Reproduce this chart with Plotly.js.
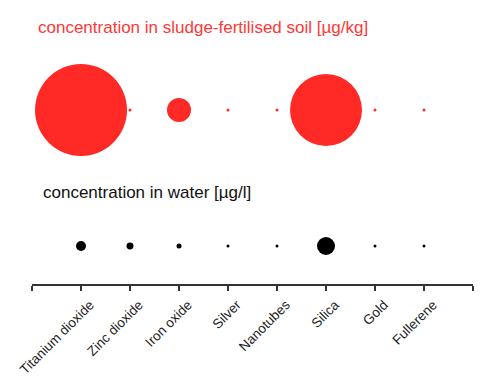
<!DOCTYPE html>
<html>
<head>
<meta charset="utf-8">
<script src="https://cdn.plot.ly/plotly-3.0.1.min.js"></script>
<style>html,body{margin:0;padding:0;background:#fff;}#chart{width:500px;height:376px;}</style>
</head>
<body>
<div id="chart"></div>
<script>
// Nanomaterials (categories)
const categories = ["Titanium dioxide", "Zinc dioxide", "Iron oxide", "Silver", "Nanotubes", "Silica", "Gold", "Fullerene"];
// Estimated concentration in sludge-fertilised soil [µg/kg]
const soilValues = [1000, 0.5, 68, 0.5, 0.5, 612, 0.5, 0.5];
// Estimated concentration in water [µg/l]
const waterValues = [3.1, 1.5, 0.77, 0.28, 0.28, 10, 0.28, 0.28];
const soilTitle = "concentration in sludge-fertilised soil [µg/kg]";
const waterTitle = "concentration in water [µg/l]";

const xpos = categories.map((c, i) => i + 1);
const maxSoilDiam = 92, maxWaterDiam = 18;
const soilRef = 2 * Math.max(...soilValues) / (maxSoilDiam * maxSoilDiam);
const waterRef = 2 * Math.max(...waterValues) / (maxWaterDiam * maxWaterDiam);

const traces = [
  {
    x: xpos, y: categories.map(() => 2), type: 'scatter', mode: 'markers',
    text: categories, cliponaxis: false, hoverinfo: 'text',
    marker: { size: soilValues, sizemode: 'area', sizeref: soilRef, sizemin: 1.5, opacity: 1,
              color: 'rgb(255,42,38)', line: { width: 0 } }
  },
  {
    x: xpos, y: categories.map(() => 1), type: 'scatter', mode: 'markers',
    text: categories, cliponaxis: false, hoverinfo: 'text',
    marker: { size: waterValues, sizemode: 'area', sizeref: waterRef, sizemin: 1.5, opacity: 1,
              color: '#000', line: { width: 0 } }
  }
];

const layout = {
  width: 500, height: 376,
  margin: { l: 32, r: 27, t: 0, b: 92 },
  paper_bgcolor: '#fff', plot_bgcolor: '#fff',
  showlegend: false,
  font: { family: 'Liberation Sans, Arial, sans-serif', color: '#222' },
  xaxis: {
    range: [0, categories.length + 1],
    tickvals: [0, ...xpos, categories.length + 1],
    ticktext: ['', ...categories, ''],
    tickangle: -45,
    ticks: 'outside', ticklen: 5, tickwidth: 1.4, tickcolor: '#333',
    ticklabelshift: 9, ticklabelstandoff: 1,
    showline: true, linecolor: '#333', linewidth: 1.6,
    showgrid: false, zeroline: false,
    tickfont: { size: 13.5, color: '#222' },
    fixedrange: true
  },
  yaxis: {
    range: [0.7206, 2.8088], visible: false, showgrid: false, zeroline: false, fixedrange: true
  },
  annotations: [
    { text: soilTitle, xref: 'x', yref: 'y', x: 0.08, y: 2.61, xanchor: 'left', yanchor: 'middle',
      showarrow: false, font: { size: 17, color: 'rgb(255,55,55)' } },
    { text: waterTitle, xref: 'x', yref: 'y', x: 0.18, y: 1.39, xanchor: 'left', yanchor: 'middle',
      showarrow: false, font: { size: 17, color: '#111' } }
  ]
};

Plotly.newPlot('chart', traces, layout, { displayModeBar: false, staticPlot: true });
</script>
</body>
</html>
